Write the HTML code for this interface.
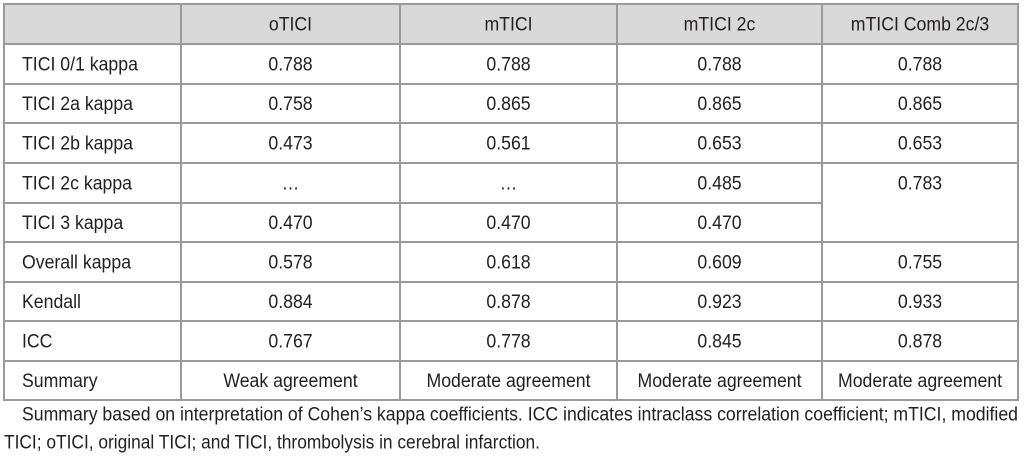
<!DOCTYPE html>
<html><head><meta charset="utf-8"><style>
html,body{margin:0;padding:0;background:#fff;width:1024px;height:459px;overflow:hidden}
svg{display:block}
text{font-family:"Liberation Sans",Arial,sans-serif;font-size:19px;fill:#231f20}
</style></head><body>
<svg id="t" width="1024" height="459"></svg>
<script>
const columns=["oTICI","mTICI","mTICI 2c","mTICI Comb 2c/3"];
const rowLabels=["TICI 0/1 kappa","TICI 2a kappa","TICI 2b kappa","TICI 2c kappa","TICI 3 kappa","Overall kappa","Kendall","ICC","Summary"];
const colO=["0.788","0.758","0.473","…","0.470","0.578","0.884","0.767","Weak agreement"];
const colM=["0.788","0.865","0.561","…","0.470","0.618","0.878","0.778","Moderate agreement"];
const col2c=["0.788","0.865","0.653","0.485","0.470","0.609","0.923","0.845","Moderate agreement"];
const colComb=["0.788","0.865","0.653","0.783","","0.755","0.933","0.878","Moderate agreement"];
const NS="http://www.w3.org/2000/svg";
const svg=document.getElementById('t');
const xs=[4,181,400,617,822,1018];
const ys=[4,44,84,123,163,203,242,282,321,361,400];
const SC=0.93;
function mk(tag,attrs){const e=document.createElementNS(NS,tag);for(const k in attrs)e.setAttribute(k,attrs[k]);svg.appendChild(e);return e;}
function txt(s,x,y,anchor,name,fit){
  const e=mk('text',{x:x,y:y,'text-anchor':anchor,'dominant-baseline':'central'});
  
  
  e.textContent=s;
  const w=e.getComputedTextLength();
  if(w>0){e.setAttribute('lengthAdjust','spacingAndGlyphs');e.setAttribute('textLength',fit||w*SC);}
  return e;
}
const hdr=mk('rect',{x:xs[0],y:ys[0],width:xs[5]-xs[0],height:ys[1]-ys[0],fill:'#d9d9d9'});


const st={stroke:'#9a9a9a','stroke-width':2};
for(let i=0;i<ys.length;i++){
  if(i===5){
    const l=mk('line',Object.assign({x1:xs[0]-1,x2:xs[4],y1:ys[i],y2:ys[i]},st));
    
    
  } else {
    const l=mk('line',Object.assign({x1:xs[0]-1,x2:xs[5]+1,y1:ys[i],y2:ys[i]},st));
    
    
  }
}
for(const x of xs){
  const l=mk('line',Object.assign({x1:x,x2:x,y1:ys[0],y2:ys[10]},st));
  
  
}
columns.forEach((c,i)=>txt(c,(xs[i+1]+xs[i+2])/2,(ys[0]+ys[1])/2+1,'middle','column-header'));
const cols=[colO,colM,col2c,colComb];
rowLabels.forEach((r,j)=>{
  const cy=(ys[j+1]+ys[j+2])/2+1;
  txt(r,22,cy,'start','row-label');
  cols.forEach((col,i)=>{ if(col[j]!=="") txt(col[j],(xs[i+1]+xs[i+2])/2,cy,'middle','table-cell'); });
});
txt("Summary based on interpretation of Cohen’s kappa coefficients. ICC indicates intraclass correlation coefficient; mTICI, modified",22,415,'start','footnote-line-1',996);
txt("TICI; oTICI, original TICI; and TICI, thrombolysis in cerebral infarction.",4,443,'start','footnote-line-2',536);
</script>
</body></html>
